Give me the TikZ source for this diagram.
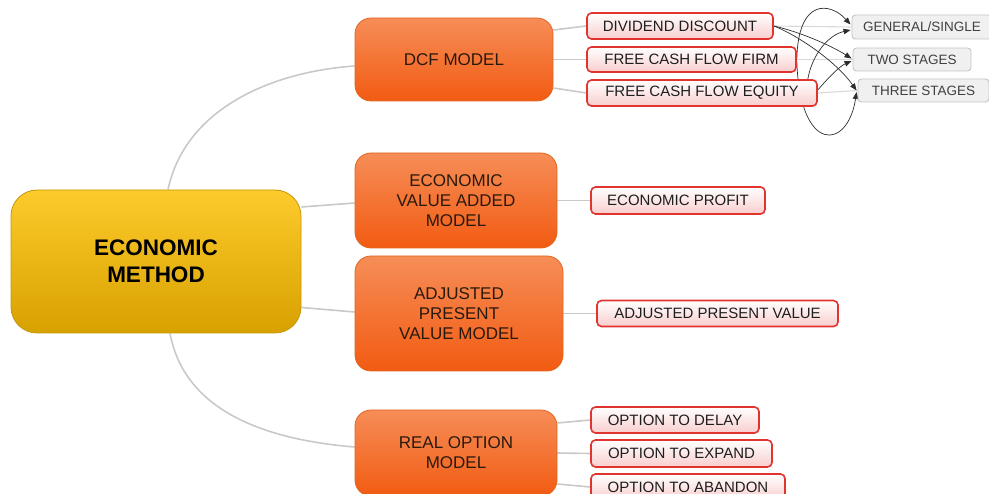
\documentclass[tikz,border=0pt]{standalone}
\usepackage{fontspec}
\setmainfont{Liberation Sans}
\usetikzlibrary{arrows.meta,calc}

\definecolor{rootTop}{HTML}{FDCB2C}
\definecolor{rootBottom}{HTML}{D7A100}
\definecolor{rootEdge}{HTML}{C4960A}
\definecolor{modelTop}{HTML}{F68D57}
\definecolor{modelBottom}{HTML}{F25B12}
\definecolor{modelEdge}{HTML}{E2661F}
\definecolor{modelText}{HTML}{2A1A0E}
\definecolor{itemEdge}{HTML}{E2342F}
\definecolor{itemBottom}{HTML}{F9CDCD}
\definecolor{itemText}{HTML}{1E1E1E}
\definecolor{stageFill}{HTML}{F0F0F0}
\definecolor{stageEdge}{HTML}{C4C4C4}
\definecolor{stageText}{HTML}{404040}
\definecolor{connGray}{HTML}{C9C9C9}
\definecolor{leafGray}{HTML}{D9D9D9}
\definecolor{relDark}{HTML}{2E2E2E}

\pgfdeclarelayer{bg}
\pgfsetlayers{bg,main}

\begin{document}
\begin{tikzpicture}[x=1pt,y=-1pt,
  conn/.style={draw=connGray, line width=1.6pt},
  leaf/.style={draw=leafGray, line width=1.1pt},
  rel/.style={draw=relDark, line width=0.7pt, -{Triangle[length=7pt,width=5.5pt]}},
  rootbox/.style={rounded corners=26pt, draw=rootEdge, line width=0.8pt,
    top color=rootTop, bottom color=rootBottom, inner sep=0pt, align=center,
    minimum width=290pt, minimum height=143pt,
    font=\fontsize{22.5}{27}\selectfont\bfseries},
  modelbox/.style={rounded corners=16pt, draw=modelEdge, line width=0.8pt,
    top color=modelTop, bottom color=modelBottom, inner sep=0pt, align=center,
    text=modelText, font=\fontsize{17}{20}\selectfont},
  itembox/.style={rounded corners=4.5pt, draw=itemEdge, line width=1.6pt,
    top color=white, bottom color=itemBottom, inner sep=0pt,
    minimum height=26pt, text=itemText, font=\fontsize{15}{18}\selectfont},
  stagebox/.style={rounded corners=3.5pt, draw=stageEdge, line width=0.9pt,
    fill=stageFill, inner sep=0pt, minimum height=23pt, text=stageText,
    font=\fontsize{13.5}{16}\selectfont},
]
\useasboundingbox (0,0) rectangle (989,494);

% root and the four models
\node[rootbox] (eco) at (156,261.5) {ECONOMIC\\METHOD};
\node[modelbox, minimum width=198pt, minimum height=83pt]  (dcf) at (454,59.5) {DCF MODEL};
\node[modelbox, minimum width=202pt, minimum height=95pt]  (eva) at (456,200.5) {ECONOMIC\\VALUE ADDED\\MODEL};
\node[modelbox, minimum width=208pt, minimum height=115pt] (apv) at (459,313.5) {ADJUSTED\\PRESENT\\VALUE MODEL};
\node[modelbox, minimum width=202pt, minimum height=86pt]  (rom) at (456,453) {REAL OPTION\\MODEL};

% leaves of each model
\node[itembox, minimum width=186pt] (dd)   at (680,26)    {DIVIDEND DISCOUNT};
\node[itembox, minimum width=209pt, minimum height=25pt] (fcff) at (691.5,59.5) {FREE CASH FLOW FIRM};
\node[itembox, minimum width=230pt] (fcfe) at (702,93)    {FREE CASH FLOW EQUITY};
\node[itembox, minimum width=174pt, minimum height=27pt] (ep) at (678,200.5) {ECONOMIC PROFIT};
\node[itembox, minimum width=241pt] (apvi) at (717.5,313.5) {ADJUSTED PRESENT VALUE};
\node[itembox, minimum width=168pt] (delay)   at (675,420)   {OPTION TO DELAY};
\node[itembox, minimum width=181pt, minimum height=27pt] (expand) at (681.5,453.5) {OPTION TO EXPAND};
\node[itembox, minimum width=194pt] (abandon) at (688,487)   {OPTION TO ABANDON};

% growth stages
\node[stagebox, minimum width=140pt, minimum height=24pt] (gen) at (922,27) {GENERAL/SINGLE};
\node[stagebox, minimum width=118pt] (two)   at (912,59.5)  {TWO STAGES};
\node[stagebox, minimum width=131pt] (three) at (923.5,90.5) {THREE STAGES};

\begin{pgfonlayer}{bg}
  % branches from the root
  \draw[conn] ($(eco.north)+(12,0)$) .. controls +(17,-80) and +(-85,6) .. ($(dcf.west)+(0,6.5)$);
  \draw[conn] ($(eco.east)+(0,-54.5)$) -- ($(eva.west)+(0,2.5)$);
  \draw[conn] ($(eco.east)+(0,46)$) -- ($(apv.west)+(0,-1.5)$);
  \draw[conn] ($(eco.south)+(14,0)$) .. controls +(15,80) and +(-85,-7) .. ($(rom.west)+(0,-6)$);

  % branches from the models
  \draw[conn] ($(dcf.east)+(0,-29.5)$) -- (dd.west);
  \draw[conn] (dcf.east) -- (fcff.west);
  \draw[conn] ($(dcf.east)+(0,28.5)$) -- (fcfe.west);
  \draw[conn] (eva.east) -- (ep.west);
  \draw[conn] (apv.east) -- (apvi.west);
  \draw[conn] ($(rom.east)+(0,-30)$) -- (delay.west);
  \draw[conn] (rom.east) -- (expand.west);
  \draw[conn] ($(rom.east)+(0,31)$) -- (abandon.west);

  % leaf links to the stages
  \draw[leaf] (dd.east) -- (gen.west);
  \draw[leaf] (fcff.east) -- (two.west);
  \draw[leaf] (fcfe.east) -- (three.west);

  % relationships
  \draw[rel] (dd.east) .. controls (800,32) and (830,45) .. ($(two.west)+(-1,-1)$);
  \draw[rel] (dd.east) .. controls (795,34) and (835,60) .. ($(three.west)+(-1,0)$);
  \draw[rel] ($(fcfe.north east)+(-10,0)$) .. controls (812,55) and (828,35) .. ($(gen.west)+(-1,3)$);
  \draw[rel] ($(fcfe.east)+(0,-3)$) .. controls (828,78) and (840,66) .. ($(two.west)+(-1,1.5)$);
  \draw[rel] (fcff.east) .. controls (798,-2) and (830,2) .. ($(gen.west)+(-1,-2.5)$);
  \draw[rel] ($(fcff.east)+(0,2)$) .. controls (800,155) and (848,150) .. ($(three.west)+(-1,1.5)$);
\end{pgfonlayer}
\end{tikzpicture}
\end{document}
